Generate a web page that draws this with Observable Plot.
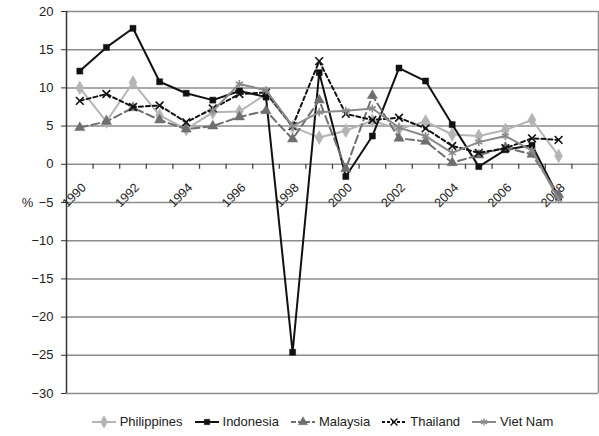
<!DOCTYPE html>
<html>
<head>
<meta charset="utf-8">
<script src="https://cdn.jsdelivr.net/npm/d3@7"></script>
<script src="https://cdn.jsdelivr.net/npm/@observablehq/plot@0.6"></script>
<style>
  body { margin: 0; background: #fff; font-family: "Liberation Sans", Arial, sans-serif; }
  #legend { display: flex; justify-content: center; align-items: center; gap: 12px;
            font-size: 13px; color: #222; margin-top: 14px; padding-left: 46px; }
  .item { display: flex; align-items: center; gap: 4px; }
  .item svg { display: block; }
</style>
</head>
<body>
<div id="chart"></div>
<div id="legend"></div>
<script>
// Annual growth rates (%), 1990–2008
const years = [1990, 1991, 1992, 1993, 1994, 1995, 1996, 1997, 1998, 1999,
               2000, 2001, 2002, 2003, 2004, 2005, 2006, 2007, 2008];
const labelYears = [1990, 1992, 1994, 1996, 1998, 2000, 2002, 2004, 2006, 2008];
const yTicks = [20, 15, 10, 5, 0, -5, -10, -15, -20, -25, -30];

const philippines = [10.0, 5.6, 10.7, 6.4, 4.6, 6.8, 6.9, 9.2, 4.9, 3.5,
                     4.4, 5.7, 4.6, 5.6, 3.9, 3.7, 4.5, 5.8, 1.1];
const indonesia   = [12.2, 15.3, 17.8, 10.8, 9.3, 8.4, 9.6, 8.8, -24.6, 12.0,
                     -1.6, 3.7, 12.6, 10.9, 5.2, -0.3, 1.9, 2.5, -4.3];
const malaysia    = [4.8, 5.6, 7.4, 5.8, 4.6, 5.0, 6.2, 7.0, 3.3, 8.4,
                     -0.6, 9.0, 3.4, 3.0, 0.2, 1.2, 2.2, 1.3, -4.0];
const thailand    = [8.3, 9.2, 7.5, 7.7, 5.5, 7.3, 9.2, 9.4, 5.0, 13.5,
                     6.6, 5.8, 6.1, 4.7, 2.4, 1.5, 2.1, 3.4, 3.2];
const vietNam     = [null, null, null, null, null, 7.0, 10.5, 9.7, 5.0, 6.8,
                     7.0, 7.3, 4.8, 3.7, 1.5, 2.9, 3.7, 1.8, -4.6];

const seriesNames = ["Philippines", "Indonesia", "Malaysia", "Thailand", "Viet Nam"];
const seriesValues = [philippines, indonesia, malaysia, thailand, vietNam];

// Line and marker styling for each series
const styles = {
  "Philippines": {stroke: "#b4b4b4", dash: null,  symbol: "diamond",  r: 4.2, filled: true},
  "Indonesia":   {stroke: "#111111", dash: null,  symbol: "square",   r: 3.4, filled: true},
  "Malaysia":    {stroke: "#6f6f6f", dash: "8,4", symbol: "triangle", r: 3.8, filled: true},
  "Thailand":    {stroke: "#111111", dash: "4,3", symbol: "times",    r: 3.6, filled: false},
  "Viet Nam":    {stroke: "#8a8a8a", dash: null,  symbol: "asterisk", r: 3.8, filled: false}
};

const rows = seriesNames.flatMap((name, s) =>
  years.map((year, i) => ({series: name, year, value: seriesValues[s][i]}))
       .filter(d => d.value != null));

const yDomain = [-30, 20];
const height = 400, marginTop = 11, marginBottom = 7;
// category-axis tick marks: 5px long, expressed in value units
const tickLen = 5 * (yDomain[1] - yDomain[0]) / (height - marginTop - marginBottom);

const xDomain = [years[0] - 0.5, years[years.length - 1] + 1.5];
const bounds = years.map(y => y + 0.5);

const seriesMarks = seriesNames.flatMap(name => {
  const st = styles[name];
  const data = rows.filter(d => d.series === name);
  return [
    Plot.line(data, {x: "year", y: "value", stroke: st.stroke, strokeWidth: 2,
                     strokeDasharray: st.dash, strokeLinejoin: "miter"}),
    Plot.dot(data, {x: "year", y: "value", symbol: () => st.symbol, r: st.r,
                    fill: st.filled ? st.stroke : "none",
                    stroke: st.stroke, strokeWidth: st.filled ? 0.5 : 1.6})
  ];
});

const chart = Plot.plot({
  width: 599,
  height,
  marginTop,
  marginBottom,
  marginLeft: 66,
  marginRight: 1,
  style: {fontFamily: "'Liberation Sans', Arial, sans-serif", background: "#fff"},
  x: {type: "linear", domain: xDomain, axis: null},
  y: {domain: yDomain, axis: null},
  symbol: {type: "identity"},
  marks: [
    Plot.gridY(yTicks, {stroke: "#8c8c8c", strokeOpacity: 1, strokeWidth: 1.5}),
    Plot.ruleX([xDomain[1]], {stroke: "#8c8c8c", strokeWidth: 1.5}),
    Plot.ruleX([xDomain[0]], {stroke: "#333", strokeWidth: 1.5}),
    Plot.axisY(yTicks, {anchor: "left", tickSize: 5, tickPadding: 8, fontSize: 13,
                        stroke: "#333", fill: "#222", label: null,
                        tickFormat: d3.format("d")}),
    Plot.ruleX(bounds, {x: d => d, y1: () => 0, y2: () => -tickLen,
                        stroke: "#444", strokeWidth: 1.3}),
    Plot.text(labelYears, {x: d => d, y: () => 0, text: d => String(d), rotate: -45,
                           textAnchor: "end", lineAnchor: "bottom", dx: 7, dy: 24,
                           fontSize: 12.5, fill: "#222"}),
    Plot.text(["%"], {frameAnchor: "left", text: d => d, textAnchor: "middle",
                      dx: -39, fontSize: 13, fill: "#222"}),
    ...seriesMarks
  ]
});
document.getElementById("chart").append(chart);

// Legend: line + marker swatch, then the series name
const legend = d3.select("#legend");
const symbolPaths = {
  diamond: d3.symbolDiamond, square: d3.symbolSquare, triangle: d3.symbolTriangle,
  times: d3.symbolTimes, asterisk: d3.symbolAsterisk
};
for (const name of seriesNames) {
  const st = styles[name];
  const item = legend.append("div").attr("class", "item");
  const sw = item.append("svg").attr("width", 24).attr("height", 12);
  sw.append("line").attr("x1", 0).attr("x2", 24).attr("y1", 6).attr("y2", 6)
    .attr("stroke", st.stroke).attr("stroke-width", 2)
    .attr("stroke-dasharray", st.dash === "8,4" ? "5,2" : st.dash === "4,3" ? "3,2" : null);
  sw.append("path")
    .attr("transform", "translate(12,6)")
    .attr("d", d3.symbol(symbolPaths[st.symbol], Math.PI * st.r * st.r * 0.8)())
    .attr("fill", st.filled ? st.stroke : "none")
    .attr("stroke", st.stroke).attr("stroke-width", st.filled ? 0.5 : 1.4);
  item.append("span").text(name);
}
</script>
</body>
</html>
